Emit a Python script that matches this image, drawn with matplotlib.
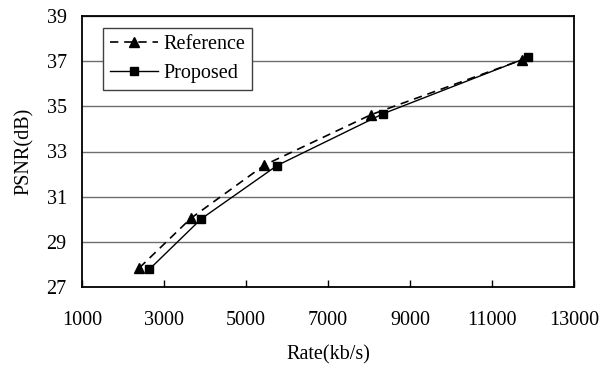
import matplotlib
matplotlib.use("Agg")
import matplotlib.pyplot as plt

ref_rate = [2400, 3660, 5450, 8050, 11730]
ref_psnr = [27.85, 30.05, 32.40, 34.63, 37.06]
prop_rate = [2640, 3910, 5760, 8340, 11890]
prop_psnr = [27.78, 30.02, 32.38, 34.67, 37.18]
x_ticks = [1000, 3000, 5000, 7000, 9000, 11000, 13000]
y_ticks = [27, 29, 31, 33, 35, 37, 39]

plt.rcParams['font.family'] = ['Liberation Serif', 'DejaVu Serif']

FS = 14.5
fig = plt.figure(figsize=(6.09, 3.66), dpi=100)
ax = fig.add_axes([82/609, 1-287/366, (574-82)/609, (287-16)/366])

ax.plot(ref_rate, ref_psnr, color='black', linestyle=(0, (5, 3.5)), linewidth=1.2,
        marker='^', markersize=6.5, label='Reference')
ax.plot(prop_rate, prop_psnr, color='black', linestyle='-', linewidth=1.0,
        marker='s', markersize=5.5, label='Proposed')

ax.set_xlim(1000, 13000)
ax.set_ylim(27, 39)
ax.set_xticks(x_ticks)
ax.set_yticks(y_ticks)
ax.tick_params(axis='x', direction='in', length=5, width=1, labelsize=FS, pad=17)
ax.tick_params(axis='y', length=0, labelsize=FS, pad=11)
ax.yaxis.grid(True, color='#6e6e6e', linewidth=1.0)
ax.set_axisbelow(True)
for s in ax.spines.values():
    s.set_color('black')
    s.set_linewidth(1.3)

ax.set_xlabel('Rate(kb/s)', fontsize=FS, labelpad=11)
ax.set_ylabel('PSNR(dB)', fontsize=FS, labelpad=9)

leg = ax.legend(loc='upper left', bbox_to_anchor=(0.043, 0.956), fontsize=FS,
                frameon=True, fancybox=False, edgecolor='#404040', framealpha=1,
                handlelength=2.35, handletextpad=0.3, borderpad=0.35, labelspacing=0.5,
                borderaxespad=0)
leg.get_frame().set_linewidth(1.0)

fig.savefig('out.png', dpi=100)
